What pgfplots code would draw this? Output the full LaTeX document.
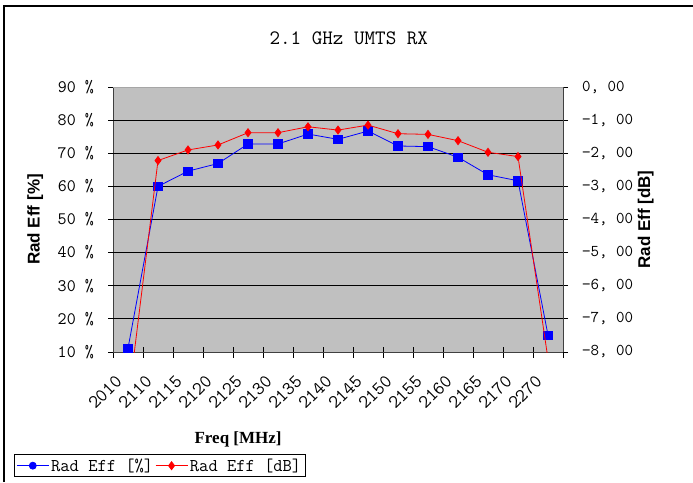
\documentclass[border=0pt]{standalone}
\usepackage{fontspec}
\setmainfont{Liberation Serif}
\newfontfamily\sansfontb{Liberation Sans}
\usepackage{pgfplots}
\pgfplotsset{compat=1.18}
\definecolor{plotgray}{RGB}{192,192,192}
\definecolor{effblue}{RGB}{0,0,255}
\definecolor{effred}{RGB}{255,0,0}

\pgfplotstableread{
idx pct
0  11.1
1  60.0
2  64.6
3  66.9
4  72.8
5  72.8
6  75.8
7  74.2
8  76.7
9  72.2
10 72.0
11 68.8
12 63.5
13 61.7
14 15.1
}\pcttable

\pgfplotstableread{
idx db
0  -9.55
1  -2.22
2  -1.90
3  -1.75
4  -1.38
5  -1.38
6  -1.20
7  -1.30
8  -1.15
9  -1.41
10 -1.43
11 -1.62
12 -1.97
13 -2.10
14 -8.21
}\dbtable

\begin{document}
\begin{tikzpicture}[x=1pt,y=1pt]
\useasboundingbox (0,0) rectangle (693,482);
\draw[line width=1.2pt] (4,0) -- (4,476) -- (693,476);

\begin{axis}[
  at={(113pt,130pt)}, anchor=south west,
  scale only axis, width=450pt, height=265pt,
  xmin=-0.5, xmax=14.5, ymin=10, ymax=90,
  axis background/.style={fill=plotgray},
  axis x line*=bottom, axis y line*=left,
  axis line style={black!75, line width=1pt},
  tick align=outside,
  xtick={0,...,14},
  xticklabels={2010,2110,2115,2120,2125,2130,2135,2140,2145,2150,2155,2160,2165,2170,2270},
  major x tick style={draw=none},
  minor xtick={-0.5,0.5,...,14.5},
  minor tick length=11pt,
  minor x tick style={black, line width=0.8pt, yshift=5.5pt},
  x tick label style={font=\ttfamily\fontsize{19}{19}\selectfont, xshift=-9pt, yshift=-21pt, rotate=45, anchor=east, inner sep=0pt},
  ytick={10,20,...,90},
  yticklabels={10 \%,20 \%,30 \%,40 \%,50 \%,60 \%,70 \%,80 \%,90 \%},
  major tick length=5pt,
  major y tick style={black, line width=0.8pt},
  y tick label style={font=\ttfamily\fontsize{17.5}{17.5}\selectfont, anchor=east, inner sep=0pt, xshift=-14pt},
  extra y ticks={20,30,...,80},
  extra y tick labels={},
  extra y tick style={grid=major, major tick length=0pt, grid style={black, line width=1pt}},
  ylabel={\sansfontb\bfseries Rad Eff [\%]},
  ylabel style={at={(axis description cs:-0.173,0.5)}, anchor=center, font=\fontsize{17}{17}\selectfont},
  xlabel={\rmfamily\bfseries Freq [MHz]},
  xlabel style={at={(axis description cs:0.278,-0.33)}, anchor=center, font=\fontsize{17}{17}\selectfont},
  title={2.1 GHz UMTS RX},
  title style={at={(axis description cs:0.524,1.163)}, anchor=center, font=\ttfamily\fontsize{20.5}{20.5}\selectfont},
  clip=true,
]
\draw[black!35, line width=0.8pt] (axis cs:-0.5,90) -- (axis cs:14.5,90);
\addplot[effblue, line width=0.8pt, mark=square*, mark size=4.2pt, mark options={solid, fill=effblue}]
  table[x=idx, y=pct] {\pcttable};
\end{axis}

\begin{axis}[
  at={(113pt,130pt)}, anchor=south west,
  scale only axis, width=450pt, height=265pt,
  xmin=-0.5, xmax=14.5, ymin=-8, ymax=0,
  axis x line=none, axis y line*=right,
  axis line style={black!75, line width=1pt},
  tick align=outside,
  major tick length=5pt,
  major y tick style={black, line width=0.8pt},
  ytick={-8,-7,...,0},
  yticklabels={{−8, 00},{−7, 00},{−6, 00},{−5, 00},{−4, 00},{−3, 00},{−2, 00},{−1, 00},{0, 00}},
  y tick label style={font=\ttfamily\fontsize{16.5}{16.5}\selectfont, anchor=west, inner sep=0pt, xshift=14pt},
  ylabel={\sansfontb\bfseries Rad Eff [dB]},
  ylabel style={at={(axis description cs:1.184,0.5)}, anchor=center, font=\fontsize{17}{17}\selectfont},
  legend columns=2,
  legend style={at={(axis description cs:-0.22,-0.472)}, anchor=south west, draw=black, line width=0.8pt,
    font=\ttfamily\fontsize{18}{18}\selectfont, inner sep=2pt, row sep=0pt,
    /tikz/every even column/.append style={column sep=0pt}},
  legend cell align=left,
  legend image code/.code={\draw[mark repeat=2,mark phase=2] plot coordinates {(0pt,0pt) (16pt,0pt) (32pt,0pt)};},
  clip=true,
]
\addlegendimage{effblue, line width=0.8pt, mark=*, mark size=3.5pt, mark options={solid, fill=effblue}}
\addlegendentry{Rad Eff [\%]}
\addplot[effred, line width=0.8pt, mark=diamond*, mark size=4pt, mark options={solid, fill=effred}]
  table[x=idx, y=db] {\dbtable};
\addlegendentry{Rad Eff [dB]}
\end{axis}
\end{tikzpicture}
\end{document}
